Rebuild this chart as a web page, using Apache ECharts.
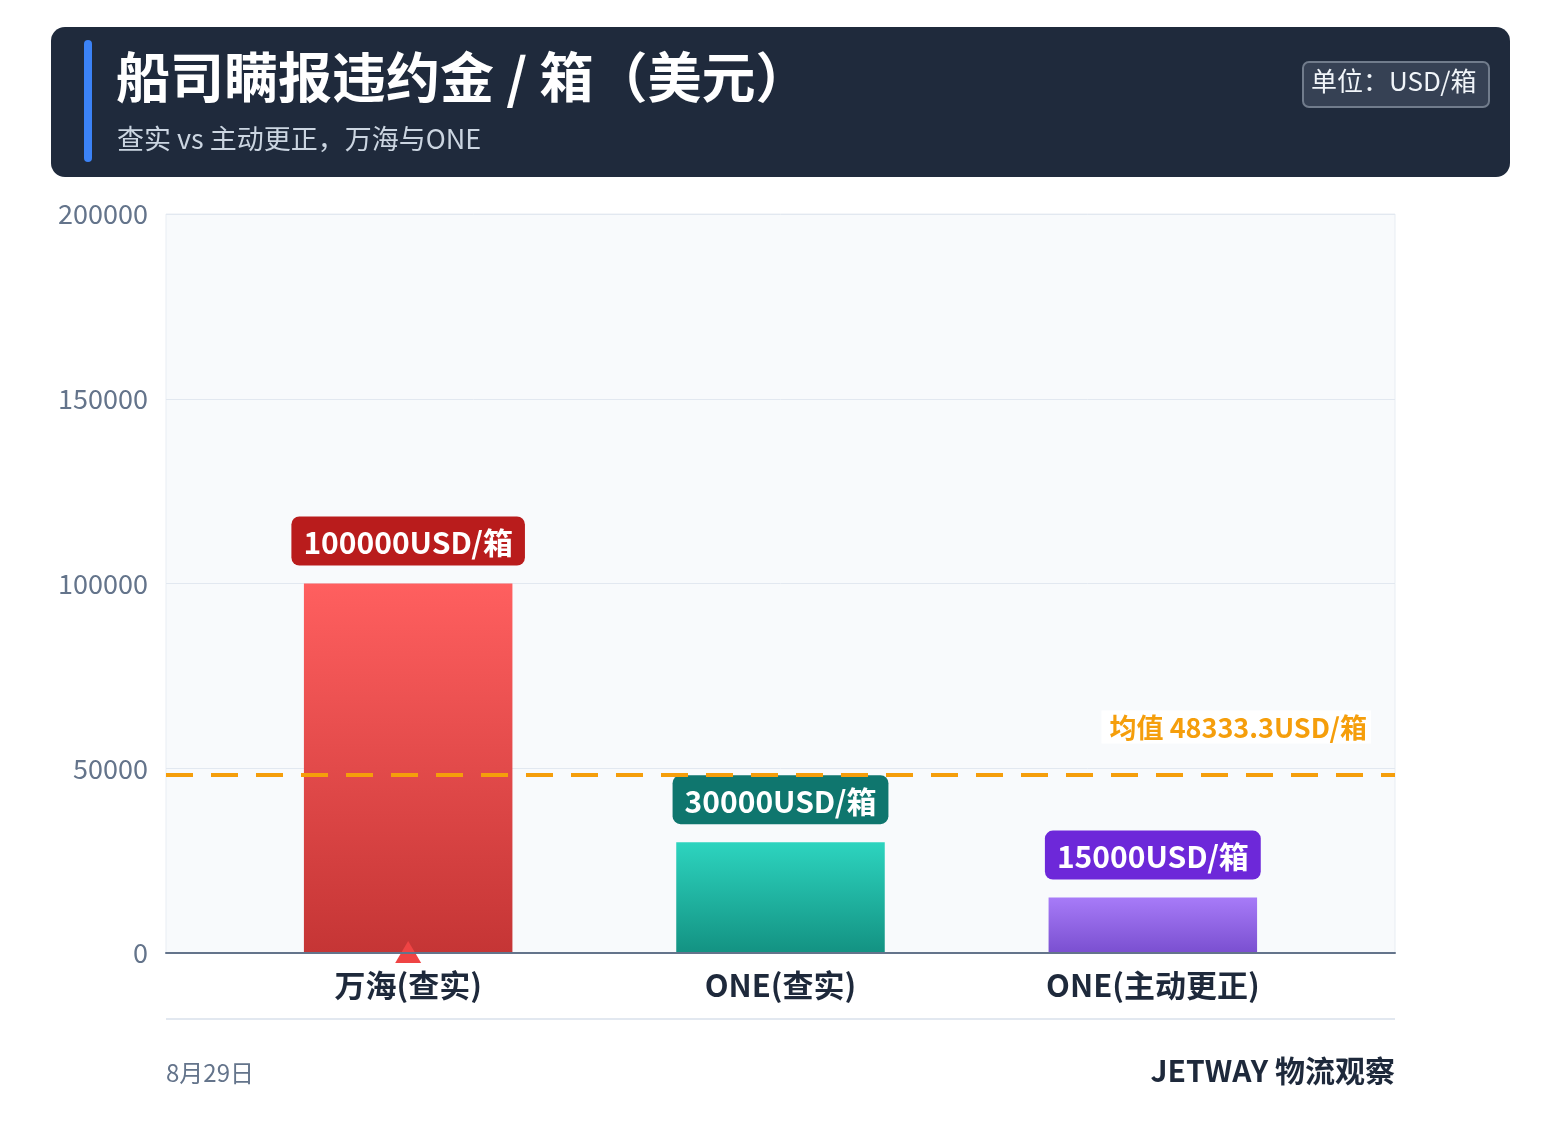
<!DOCTYPE html>
<html>
<head>
<meta charset="utf-8">
<script src="https://cdn.jsdelivr.net/npm/echarts@6/dist/echarts.min.js"></script>
<style>
html,body{margin:0;padding:0;background:#ffffff;}
#chart{width:1561px;height:1145px;}
</style>
</head>
<body>
<div id="chart"></div>
<script>
// ---- data ----
const categories = ['万海(查实)', 'ONE(查实)', 'ONE(主动更正)'];
const values = [100000, 30000, 15000];
const unit = 'USD/箱';
const yTicks = [0, 50000, 100000, 150000, 200000];
const titleText = '船司瞒报违约金 / 箱（美元）';
const subtitleText = '查实 vs 主动更正，万海与ONE';
const unitBadge = '单位：USD/箱';
const footerLeft = '8月29日';
const footerRight = 'JETWAY 物流观察';

// ---- styles ----
const FONT = '"Noto Sans CJK SC", "Noto Sans", sans-serif';
const barTop = ['#ff5f5f', '#2dd4bf', '#a77bf8'];
const barBottom = ['#c53535', '#139282', '#7a4fd0'];
const labelBg = ['#b91c1c', '#0f766e', '#6d28d9'];

const chart = echarts.init(document.getElementById('chart'));

const seriesData = values.map((v, i) => ({
  value: v,
  itemStyle: {
    color: new echarts.graphic.LinearGradient(0, 0, 0, 1, [
      { offset: 0, color: barTop[i] },
      { offset: 1, color: barBottom[i] }
    ])
  },
  label: { backgroundColor: labelBg[i] }
}));

const yMin = yTicks[0];
const yMax = yTicks[yTicks.length - 1];
const yInt = yTicks[1] - yTicks[0];

chart.setOption({
  backgroundColor: '#ffffff',
  animation: false,
  textStyle: { fontFamily: FONT },
  grid: [
    {
      left: 166, right: 166, top: 214, bottom: 192,
      show: true, backgroundColor: '#f8fafc', borderColor: '#e8edf3', borderWidth: 1
    },
    { left: 222, right: 222, top: 214, bottom: 192 }
  ],
  xAxis: [
    {
      gridIndex: 0,
      type: 'category',
      data: categories,
      axisLine: { show: true, lineStyle: { color: '#64748b', width: 2 } },
      axisTick: { show: false },
      axisLabel: { show: false },
      z: 5
    },
    {
      gridIndex: 1,
      type: 'category',
      data: categories,
      axisLine: { show: false },
      axisTick: { show: false },
      axisLabel: {
        color: '#1e293b', fontSize: 31, fontWeight: 'bold', fontFamily: FONT, margin: 17
      }
    }
  ],
  yAxis: [
    {
      gridIndex: 0,
      type: 'value',
      min: yMin, max: yMax, interval: yInt,
      axisLine: { show: false },
      axisTick: { show: false },
      splitLine: { lineStyle: { color: '#e2e8f0', width: 1 } },
      axisLabel: {
        color: '#64748b', fontSize: 27, fontFamily: FONT, margin: 18,
        formatter: v => String(v)
      }
    },
    {
      gridIndex: 1,
      type: 'value',
      min: yMin, max: yMax, interval: yInt,
      show: false
    }
  ],
  series: [
    {
      type: 'bar',
      xAxisIndex: 1,
      yAxisIndex: 1,
      data: seriesData,
      barWidth: '56%',
      label: {
        show: true,
        position: 'top',
        distance: 18,
        formatter: p => p.value + unit,
        color: '#ffffff',
        fontSize: 30,
        fontWeight: 'bold',
        fontFamily: FONT,
        padding: [11, 12, 8, 12],
        borderRadius: 8
      },
      markPoint: {
        silent: true,
        symbol: 'triangle',
        symbolSize: [26, 22],
        symbolOffset: [0, -1],
        itemStyle: { color: '#ef4444' },
        label: { show: false },
        data: [{ coord: [categories[0], 0] }]
      }
    },
    {
      // invisible helper series in the full-width grid carrying the mean line
      type: 'line',
      xAxisIndex: 0,
      yAxisIndex: 0,
      data: values,
      symbol: 'none',
      showSymbol: false,
      silent: true,
      lineStyle: { opacity: 0 },
      markLine: {
        silent: true,
        symbol: 'none',
        data: [{ type: 'average' }],
        lineStyle: { color: '#f59e0b', width: 4, type: [27, 18] },
        label: {
          position: 'insideEndTop',
          distance: [24, 31],
          formatter: p => '均值 ' + (Math.round(p.value * 10) / 10) + unit,
          color: '#f59e0b',
          fontSize: 27,
          fontWeight: 'bold',
          fontFamily: FONT,
          backgroundColor: '#ffffff',
          padding: [4, 4, 2, 8]
        }
      }
    }
  ],
  graphic: [
    {
      type: 'rect', left: 51, top: 27,
      shape: { width: 1459, height: 150, r: 14 },
      style: { fill: '#1f2a3c' }, z: 0
    },
    {
      type: 'rect', left: 84, top: 40,
      shape: { width: 8, height: 122, r: 4 },
      style: { fill: '#3b82f6' }, z: 1
    },
    {
      type: 'text', left: 116, top: 50,
      style: { text: titleText, fill: '#ffffff', font: 'bold 54px ' + FONT }, z: 1
    },
    {
      type: 'text', left: 117, top: 125,
      style: { text: subtitleText, fill: '#cbd5e1', font: '27px ' + FONT }, z: 1
    },
    {
      type: 'rect', left: 1302, top: 61,
      shape: { width: 186, height: 45, r: 6 },
      style: { fill: '#364154', stroke: '#717c8c', lineWidth: 2 }, z: 1
    },
    {
      type: 'text', left: 1311, top: 68,
      style: { text: unitBadge, fill: '#f1f5f9', font: '26px ' + FONT }, z: 2
    },
    {
      type: 'rect', left: 166, top: 1018,
      shape: { width: 1229, height: 2 },
      style: { fill: '#e2e8f0' }, z: 1
    },
    {
      type: 'text', left: 166, top: 1061,
      style: { text: footerLeft, fill: '#64748b', font: '24px ' + FONT }, z: 1
    },
    {
      type: 'text', right: 166, top: 1056,
      style: { text: footerRight, fill: '#1e293b', font: 'bold 30px ' + FONT }, z: 1
    }
  ]
});
</script>
</body>
</html>
